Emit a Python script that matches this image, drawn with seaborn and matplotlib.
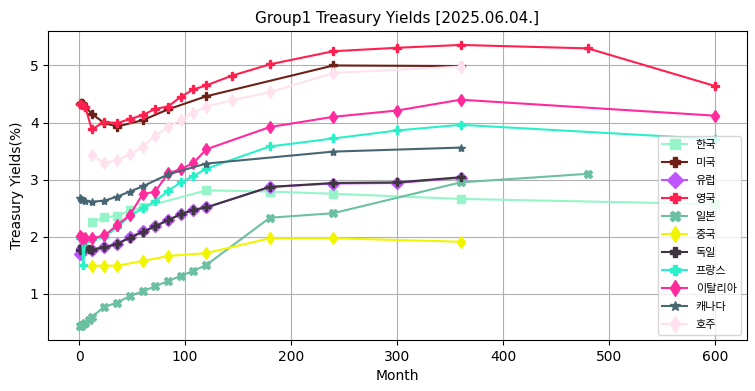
import pandas as pd
import matplotlib
matplotlib.use("Agg")
import matplotlib.pyplot as plt
import seaborn as sns

# 국가별 만기(개월)와 금리(%)
kr_m = [12, 24, 36, 48, 60, 120, 180, 240, 360, 600]
kr_y = [2.25, 2.34, 2.36, 2.46, 2.51, 2.81, 2.79, 2.75, 2.66, 2.57]

us_m = [1, 2, 3, 4, 6, 12, 24, 36, 60, 84, 120, 240, 360]
us_y = [4.33, 4.34, 4.35, 4.32, 4.28, 4.15, 3.99, 3.93, 4.04, 4.23, 4.46, 5.00, 4.99]

eu_m = [1, 3, 6, 12, 24, 36, 48, 60, 72, 84, 96, 108, 120, 180, 240, 300, 360]
eu_y = [1.70, 1.80, 1.79, 1.77, 1.82, 1.87, 1.99, 2.09, 2.18, 2.29, 2.39, 2.47, 2.51, 2.87, 2.93, 2.94, 3.03]

uk_m = [1, 3, 6, 12, 24, 36, 48, 60, 72, 84, 96, 108, 120, 144, 180, 240, 300, 360, 480, 600]
uk_y = [4.32, 4.30, 4.27, 3.88, 4.01, 3.99, 4.06, 4.13, 4.24, 4.28, 4.45, 4.58, 4.65, 4.82, 5.02, 5.25, 5.31, 5.36, 5.30, 4.64]

jp_m = [1, 2, 3, 6, 9, 12, 24, 36, 48, 60, 72, 84, 96, 108, 120, 180, 240, 360, 480]
jp_y = [0.43, 0.44, 0.45, 0.49, 0.53, 0.59, 0.77, 0.84, 0.96, 1.04, 1.13, 1.22, 1.31, 1.40, 1.50, 2.33, 2.41, 2.95, 3.10]

cn_m = [12, 24, 36, 60, 84, 120, 180, 240, 360]
cn_y = [1.49, 1.49, 1.49, 1.57, 1.66, 1.71, 1.97, 1.97, 1.91]

de_m = [1, 3, 6, 9, 12, 24, 36, 48, 60, 72, 84, 96, 108, 120, 180, 240, 300, 360]
de_y = [1.76, 1.84, 1.80, 1.78, 1.77, 1.81, 1.87, 1.98, 2.08, 2.18, 2.29, 2.39, 2.47, 2.51, 2.87, 2.94, 2.95, 3.04]

fr_m = [1, 3, 4, 6, 12, 24, 36, 48, 60, 72, 84, 96, 108, 120, 180, 240, 300, 360, 600]
fr_y = [1.98, 1.96, 1.50, 1.93, 1.95, 2.00, 2.16, 2.36, 2.50, 2.62, 2.80, 2.95, 3.06, 3.19, 3.58, 3.72, 3.86, 3.96, 3.71]

it_m = [1, 3, 6, 12, 24, 36, 48, 60, 72, 84, 96, 108, 120, 180, 240, 300, 360, 600]
it_y = [2.01, 1.98, 1.97, 1.97, 2.02, 2.20, 2.38, 2.74, 2.79, 3.11, 3.18, 3.29, 3.53, 3.92, 4.10, 4.21, 4.40, 4.12]

ca_m = [1, 2, 3, 6, 12, 24, 36, 48, 60, 84, 120, 240, 360]
ca_y = [2.68, 2.66, 2.65, 2.63, 2.61, 2.63, 2.70, 2.79, 2.88, 3.09, 3.28, 3.49, 3.56]

au_m = [12, 24, 36, 48, 60, 72, 84, 96, 108, 120, 144, 180, 240, 360]
au_y = [3.43, 3.29, 3.34, 3.44, 3.57, 3.77, 3.92, 4.05, 4.17, 4.28, 4.39, 4.53, 4.87, 4.98]

countries = ["한국", "미국", "유럽", "영국", "일본", "중국", "독일", "프랑스", "이탈리아", "캐나다", "호주"]
months = [kr_m, us_m, eu_m, uk_m, jp_m, cn_m, de_m, fr_m, it_m, ca_m, au_m]
yields = [kr_y, us_y, eu_y, uk_y, jp_y, cn_y, de_y, fr_y, it_y, ca_y, au_y]

colors = ["#96F5C8", "#6E2016", "#BF55FF", "#FF2050", "#6CC0A2", "#F2F500",
          "#3E3540", "#2AF0C8", "#FF2A9C", "#476673", "#FFE2EE"]
markers = ["s", "P", "D", "P", "X", "d", "P", "P", "d", "*", "d"]

rows = []
for c, ms, ys in zip(countries, months, yields):
    for m, y in zip(ms, ys):
        rows.append({"Country": c, "Month": m, "Yield": y})
df = pd.DataFrame(rows)

fig, ax = plt.subplots(figsize=(7.55, 3.91), dpi=100)
for c, col, mk in zip(countries, colors, markers):
    sub = df[df["Country"] == c]
    sns.lineplot(data=sub, x="Month", y="Yield", ax=ax, color=col, marker=mk,
                 markersize=6, markeredgecolor=col, markeredgewidth=1,
                 linewidth=1.5, label=c)

ax.grid(True, color="#b0b0b0", linewidth=0.8)
ax.set_title("Group1 Treasury Yields [2025.06.04.]", fontsize=11)
ax.set_xlabel("Month", fontsize=10)
ax.set_ylabel("Treasury Yields(%)", fontsize=10)
ax.legend(loc="lower right", prop={"family": ["Noto Sans CJK KR", "DejaVu Sans"], "size": 8},
          labelspacing=0.72, handlelength=2.2, markerscale=1.3)

plt.subplots_adjust(left=0.064, right=0.989, top=0.921, bottom=0.13)
plt.savefig("out.png", dpi=100)
